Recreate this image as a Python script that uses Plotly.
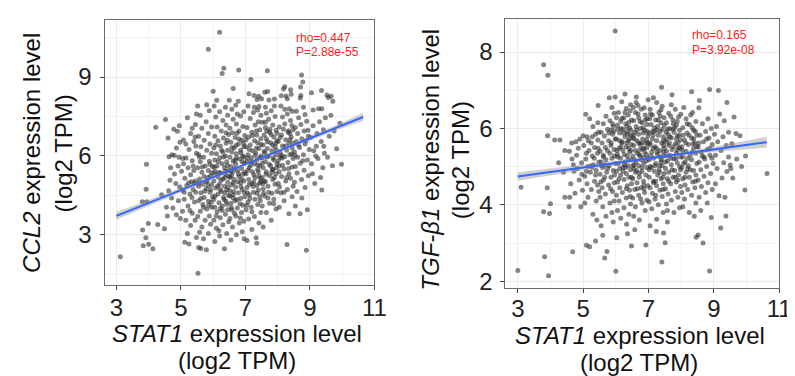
import plotly.graph_objects as go

# ---------------- data ----------------
# Left panel: STAT1 (x) vs CCL2 (y), log2 TPM
ccl2_points = [
    (3.12,2.17),(3.81,3.18),(3.91,2.89),(3.83,2.58),(4.00,2.64),(3.99,3.43),(3.80,4.26),(3.94,4.26),(3.93,5.68),(3.92,4.73),
    (4.13,2.47),(4.28,3.39),(4.49,3.23),(4.22,7.09),(4.52,7.39),(4.60,6.68),(4.89,6.94),(4.80,6.02),(4.63,5.97),(4.58,3.72),
    (4.75,4.02),(4.71,4.40),(4.86,3.76),(4.55,4.05),(4.92,4.30),(4.96,4.82),(4.66,5.08),(4.80,5.31),(4.91,5.62),(4.86,6.30),
    (4.72,6.05),(4.97,6.52),(4.40,4.52),(4.62,4.68),(4.98,3.62),(4.84,4.95),(4.94,5.95),(4.78,7.02),(4.95,7.15),(4.68,5.55),
    (5.08,6.61),(5.06,5.90),(5.12,2.72),(5.25,2.65),(5.20,3.05),(5.30,3.35),(5.15,3.55),(5.05,3.90),(5.22,4.10),(5.35,3.82),
    (5.10,4.35),(5.28,4.55),(5.42,4.25),(5.05,4.70),(5.18,4.88),(5.38,4.72),(5.45,5.05),(5.12,5.15),(5.30,5.28),(5.22,5.55),
    (5.40,5.45),(5.08,5.70),(5.35,5.82),(5.48,6.10),(5.25,6.25),(5.15,6.45),(5.40,6.55),(5.30,6.85),(5.45,7.20),(5.20,7.45),
    (5.48,7.60),(5.35,7.05),(5.44,3.55),(5.48,2.90),(5.42,4.95),(5.02,5.42),(5.33,5.02),(5.46,6.38),
    (5.53,1.54),(5.79,2.43),(5.55,2.52),(5.62,2.48),(5.70,2.85),(5.58,3.10),(5.85,3.05),(5.65,3.30),(5.92,3.40),(5.75,3.55),
    (5.52,3.70),(5.88,3.72),(5.60,3.90),(5.80,3.98),(5.95,4.05),(5.68,4.15),(5.55,4.30),(5.85,4.28),(5.72,4.42),(5.98,4.45),
    (5.62,4.60),(5.90,4.62),(5.78,4.75),(5.55,4.85),(5.68,4.92),(5.95,4.90),(5.82,5.05),(5.58,5.12),(5.72,5.22),(5.92,5.25),
    (5.65,5.38),(5.85,5.45),(5.52,5.55),(5.75,5.62),(5.98,5.60),(5.60,5.78),(5.88,5.80),(5.70,5.95),(5.55,6.05),(5.95,6.10),
    (5.80,6.22),(5.62,6.35),(5.90,6.45),(5.72,6.60),(5.55,6.75),(5.85,6.85),(5.65,7.05),(5.95,7.10),(5.78,7.30),(5.60,7.55),
    (5.88,7.72),(5.80,7.95),(5.52,7.90),(5.85,10.06),(5.70,4.05),(5.92,4.72),(5.58,5.95),(5.84,5.18),
    (6.20,10.71),(6.33,9.34),(6.28,9.14),(6.00,8.46),(6.11,8.12),(6.03,7.90),(6.35,2.47),(6.05,2.75),(6.20,2.95),(6.42,3.05),
    (6.10,3.25),(6.30,3.38),(6.48,3.50),(6.02,3.55),(6.22,3.65),(6.38,3.78),(6.12,3.88),(6.45,3.95),(6.05,4.05),(6.28,4.10),
    (6.18,4.22),(6.40,4.28),(6.02,4.35),(6.32,4.42),(6.48,4.50),(6.15,4.55),(6.25,4.65),(6.42,4.70),(6.08,4.78),(6.35,4.85),
    (6.20,4.92),(6.45,5.00),(6.02,5.05),(6.30,5.12),(6.15,5.20),(6.40,5.28),(6.25,5.35),(6.05,5.42),(6.48,5.45),(6.35,5.55),
    (6.12,5.62),(6.28,5.70),(6.42,5.78),(6.05,5.85),(6.20,5.92),(6.38,6.00),(6.10,6.08),(6.30,6.15),(6.45,6.22),(6.02,6.30),
    (6.22,6.38),(6.40,6.48),(6.15,6.58),(6.32,6.68),(6.05,6.75),(6.48,6.82),(6.25,6.95),(6.12,7.10),(6.40,7.18),(6.30,7.35),
    (6.08,7.48),(6.45,7.55),(6.20,7.68),(6.38,7.85),(6.50,8.12),(6.22,4.00),(6.36,4.60),(6.08,5.30),(6.44,6.60),(6.18,3.15),
    (6.79,9.27),(6.62,8.57),(6.78,8.08),(6.70,7.93),(6.55,2.80),(6.72,3.00),(6.90,3.12),(6.60,3.30),(6.81,3.45),(6.95,3.52),
    (6.52,3.62),(6.70,3.72),(6.88,3.85),(6.58,3.95),(6.75,4.02),(6.92,4.12),(6.55,4.20),(6.68,4.30),(6.85,4.38),(6.98,4.45),
    (6.62,4.52),(6.78,4.60),(6.52,4.68),(6.90,4.72),(6.70,4.82),(6.58,4.90),(6.85,4.98),(6.95,5.05),(6.65,5.10),(6.52,5.18),
    (6.80,5.22),(6.92,5.30),(6.60,5.38),(6.75,5.45),(6.88,5.52),(6.55,5.60),(6.70,5.68),(6.98,5.72),(6.62,5.80),(6.82,5.88),
    (6.52,5.95),(6.92,6.00),(6.72,6.08),(6.58,6.15),(6.85,6.22),(6.65,6.30),(6.95,6.35),(6.78,6.45),(6.55,6.52),(6.88,6.60),
    (6.68,6.70),(6.98,6.78),(6.60,6.88),(6.80,6.95),(6.52,7.05),(6.92,7.12),(6.72,7.22),(6.62,7.40),(6.85,7.52),(6.95,7.68),
    (6.58,7.78),(6.75,7.60),(6.88,5.12),(6.62,4.40),(6.76,5.02),(6.94,5.95),(6.57,5.25),(6.83,4.18),(6.71,6.40),(6.96,2.85),(6.66,5.52),
    (7.17,8.91),(7.11,8.37),(7.27,8.30),(7.41,8.27),(7.36,8.15),(7.08,7.90),(7.28,7.85),(7.42,7.88),(7.35,2.68),(7.33,2.89),
    (7.05,2.78),(7.20,3.20),(7.42,3.45),(7.10,3.60),(7.28,3.70),(7.48,3.85),(7.02,3.95),(7.18,4.05),(7.38,4.15),(7.08,4.25),
    (7.30,4.35),(7.45,4.45),(7.12,4.52),(7.25,4.62),(7.40,4.70),(7.05,4.80),(7.35,4.88),(7.20,4.95),(7.48,5.02),(7.10,5.10),
    (7.30,5.18),(7.42,5.25),(7.02,5.32),(7.22,5.40),(7.38,5.48),(7.12,5.55),(7.45,5.62),(7.28,5.70),(7.05,5.78),(7.35,5.85),
    (7.18,5.92),(7.48,6.00),(7.08,6.05),(7.32,6.12),(7.22,6.20),(7.42,6.28),(7.02,6.35),(7.15,6.42),(7.38,6.50),(7.28,6.58),
    (7.48,6.65),(7.10,6.72),(7.35,6.80),(7.20,6.90),(7.45,7.00),(7.05,7.08),(7.30,7.18),(7.40,7.30),(7.15,7.42),(7.48,7.55),
    (7.25,7.65),(7.38,7.75),(7.12,6.25),(7.44,5.92),(7.26,5.02),(7.06,4.60),(7.34,6.95),(7.16,5.65),
    (7.68,9.24),(7.60,8.42),(7.69,8.45),(7.50,8.18),(7.73,8.13),(7.90,8.17),(7.62,7.85),(7.90,7.90),(7.55,3.30),(7.80,3.55),
    (7.65,3.85),(7.95,3.98),(7.52,4.10),(7.75,4.20),(7.88,4.35),(7.60,4.48),(7.82,4.58),(7.98,4.65),(7.55,4.75),(7.70,4.85),
    (7.92,4.92),(7.62,5.02),(7.85,5.10),(7.52,5.18),(7.75,5.25),(7.95,5.32),(7.65,5.40),(7.85,5.48),(7.55,5.55),(7.78,5.62),
    (7.98,5.70),(7.62,5.78),(7.88,5.85),(7.52,5.92),(7.72,6.00),(7.95,6.05),(7.60,6.12),(7.82,6.20),(7.68,6.28),(7.92,6.35),
    (7.55,6.42),(7.78,6.50),(7.98,6.58),(7.65,6.65),(7.88,6.72),(7.58,6.80),(7.75,6.90),(7.95,6.98),(7.62,7.08),(7.85,7.18),
    (7.52,7.28),(7.72,7.40),(7.92,7.50),(7.65,7.62),(7.80,7.72),(7.58,5.05),(7.84,6.42),(7.70,4.40),(7.96,5.55),(7.66,6.95),
    (8.22,8.63),(8.18,8.55),(8.40,8.52),(8.11,8.29),(8.26,8.28),(8.42,8.35),(8.30,8.18),(8.10,7.90),(8.22,7.78),(8.36,7.80),
    (8.29,2.63),(8.35,3.80),(8.05,4.05),(8.20,4.30),(8.45,4.45),(8.10,4.60),(8.30,4.72),(8.48,4.85),(8.02,4.95),(8.25,5.05),
    (8.40,5.15),(8.12,5.22),(8.35,5.32),(8.05,5.40),(8.20,5.50),(8.45,5.58),(8.15,5.65),(8.32,5.75),(8.02,5.82),(8.48,5.90),
    (8.22,5.98),(8.38,6.05),(8.08,6.12),(8.28,6.22),(8.45,6.30),(8.15,6.38),(8.35,6.48),(8.02,6.55),(8.25,6.62),(8.42,6.72),
    (8.12,6.80),(8.32,6.90),(8.48,7.00),(8.05,7.10),(8.22,7.22),(8.40,7.35),(8.15,7.48),(8.30,7.60),(8.45,7.70),(8.08,5.95),(8.38,6.85),
    (8.74,9.08),(8.78,8.81),(8.71,8.62),(8.72,8.30),(8.70,8.20),(8.80,7.85),(8.89,2.41),(8.70,3.80),(8.92,3.95),(8.55,4.10),
    (8.75,4.40),(8.60,4.65),(8.85,4.80),(8.52,5.00),(8.74,5.10),(8.95,5.25),(8.60,5.35),(8.82,5.46),(8.55,5.60),(8.70,5.72),
    (8.92,5.85),(8.62,5.95),(8.80,6.05),(8.52,6.15),(8.98,6.25),(8.68,6.32),(8.85,6.45),(8.58,6.55),(8.75,6.65),(8.95,6.75),
    (8.62,6.85),(8.82,6.95),(8.55,7.08),(8.72,7.20),(8.90,7.32),(8.65,7.45),(8.85,7.58),(8.58,7.70),
    (9.05,8.40),(9.36,8.49),(9.10,7.75),(9.27,7.80),(9.37,7.80),(9.08,5.32),(9.20,6.37),(9.33,5.18),(9.37,4.70),(9.15,4.95),
    (9.40,5.55),(9.05,5.70),(9.25,5.90),(9.45,6.10),(9.12,6.20),(9.35,6.55),(9.02,6.70),(9.22,6.85),(9.42,7.00),(9.10,7.15),
    (9.30,7.30),(9.48,7.45),(9.18,6.00),
    (9.53,8.32),(9.57,8.22),(9.66,8.27),(9.71,8.08),(9.43,6.37),(9.93,7.24),(9.83,6.27),(9.70,5.63),(9.98,5.68),(9.60,6.75),
    (9.75,6.95),(9.55,5.95),(9.65,7.55),
    # denser core
    (5.62,4.38),(5.74,4.66),(5.86,4.12),(5.96,5.36),(5.66,5.58),(5.78,5.02),(5.90,5.68),(5.56,4.96),(5.84,4.88),(5.94,4.24),
    (6.06,4.48),(6.14,4.86),(6.24,5.08),(6.34,4.34),(6.46,4.82),(6.04,5.58),(6.16,5.78),(6.26,6.22),(6.38,5.42),(6.44,5.64),
    (6.10,3.72),(6.28,3.92),(6.42,4.16),(6.50,5.22),(6.18,5.38),(6.32,5.96),(6.08,6.42),(6.40,6.88),(6.22,4.72),(6.36,5.18),
    (6.56,4.04),(6.64,4.64),(6.74,4.34),(6.86,4.84),(6.96,4.62),(6.54,5.42),(6.68,5.84),(6.78,5.32),(6.90,5.78),(6.58,6.32),
    (6.80,6.64),(6.94,6.48),(6.62,4.98),(6.72,5.92),(6.86,6.12),(6.52,4.48),(6.66,3.82),(6.84,3.64),(6.98,5.38),(6.74,6.86),
    (7.04,4.12),(7.14,4.38),(7.24,4.84),(7.36,4.58),(7.46,5.14),(7.08,5.46),(7.18,5.78),(7.30,6.02),(7.40,5.40),(7.48,6.44),
    (7.02,6.62),(7.22,6.78),(7.34,6.30),(7.12,4.92),(7.26,5.28),(7.44,4.96),(7.06,5.92),(7.38,5.66),(7.20,3.88),(7.46,4.30),
    (7.54,4.94),(7.64,5.30),(7.74,5.68),(7.86,5.92),(7.96,6.22),(7.58,6.18),(7.68,6.54),(7.80,6.82),(7.90,5.18),(7.52,5.72),
    (7.72,4.62),(7.84,5.48),(7.94,6.48),(7.62,7.28),(7.76,7.02),(7.56,4.58),(7.88,4.18),(7.98,6.86),(7.66,5.96),(7.82,5.38),
    (8.04,5.62),(8.14,5.92),(8.24,6.38),(8.34,5.52),(8.44,6.08),(8.08,6.70),(8.18,7.02),(8.28,5.18),(8.38,6.62),(8.48,6.48),
    (8.06,4.82),(8.20,4.62),(8.34,6.96),(8.44,7.16),(8.12,6.02),(8.54,6.02),(8.64,6.42),(8.78,5.82),(8.88,6.58),(8.94,6.98),
    (5.34,4.42),(5.46,4.62),(5.24,4.98),(5.38,5.62),(5.16,5.92),(5.44,6.72),(5.28,3.92),(5.10,4.62),
]
left_stat1 = [p[0] for p in ccl2_points]
left_ccl2 = [p[1] for p in ccl2_points]

# Right panel: STAT1 (x) vs TGF-beta1 (y), log2 TPM
tgfb1_points = [
    (3.00,2.28),(3.10,4.46),(3.79,7.67),(3.92,7.39),(3.94,2.14),(3.82,2.64),(3.79,3.82),(3.97,3.77),(4.00,4.03),(3.90,4.45),
    (3.91,5.81),(4.13,5.70),(4.29,5.70),(4.44,5.42),(4.44,4.20),(4.40,4.85),(4.25,5.10),
    (4.59,4.20),(4.57,3.95),(4.68,2.77),(4.65,5.62),(4.72,4.88),(4.80,5.30),(4.62,4.55),(4.88,4.65),(4.95,5.10),(4.70,5.05),
    (4.85,5.48),(4.98,4.38),(4.75,4.30),(4.90,5.72),(4.58,5.40),(4.82,4.95),(4.96,4.80),(4.66,5.20),(4.93,3.95),(4.78,5.65),
    (5.00,5.81),(5.08,6.37),(5.46,6.60),(5.38,3.05),(5.10,2.94),(5.20,2.90),(5.05,4.05),(5.15,4.20),(5.30,3.75),(5.42,3.60),
    (5.25,4.40),(5.12,4.55),(5.35,4.62),(5.48,4.35),(5.05,4.75),(5.22,4.85),(5.40,4.90),(5.15,5.00),(5.32,5.05),(5.48,5.12),
    (5.08,5.20),(5.28,5.28),(5.44,5.35),(5.18,5.42),(5.35,5.50),(5.02,5.55),(5.25,5.62),(5.45,5.70),(5.12,5.78),(5.38,5.85),
    (5.30,6.05),(5.45,6.15),(5.20,6.25),(5.40,4.10),(5.28,4.98),(5.10,5.35),(5.47,5.90),
    (5.98,8.55),(5.73,2.78),(5.66,2.61),(5.55,3.45),(5.70,3.70),(5.88,3.80),(5.60,3.95),(5.82,4.05),(5.95,4.10),(5.52,4.20),
    (5.68,4.28),(5.90,4.35),(5.58,4.45),(5.78,4.52),(5.95,4.58),(5.62,4.65),(5.85,4.72),(5.52,4.80),(5.72,4.85),(5.92,4.90),
    (5.60,4.98),(5.80,5.02),(5.98,5.08),(5.55,5.12),(5.70,5.18),(5.88,5.22),(5.62,5.30),(5.82,5.35),(5.52,5.40),(5.95,5.45),
    (5.68,5.50),(5.85,5.55),(5.58,5.62),(5.78,5.68),(5.98,5.72),(5.65,5.80),(5.90,5.85),(5.55,5.90),(5.75,5.98),(5.92,6.05),
    (5.62,6.12),(5.82,6.20),(5.70,6.32),(5.95,6.40),(5.88,6.55),(5.80,6.80),(5.98,6.82),(5.60,3.20),(5.92,3.55),(5.75,4.95),
    (5.86,5.95),(5.66,5.05),(5.54,4.60),(5.96,4.78),
    (6.00,2.26),(6.03,3.14),(6.36,3.24),(6.33,3.49),(6.48,2.92),(6.28,6.90),(6.15,3.65),(6.40,3.75),(6.05,3.85),(6.25,3.92),
    (6.45,4.02),(6.10,4.10),(6.32,4.18),(6.02,4.25),(6.20,4.32),(6.42,4.38),(6.12,4.45),(6.35,4.50),(6.48,4.55),(6.05,4.60),
    (6.25,4.66),(6.40,4.72),(6.15,4.78),(6.32,4.82),(6.02,4.88),(6.45,4.92),(6.22,4.98),(6.38,5.02),(6.08,5.08),(6.28,5.12),
    (6.48,5.18),(6.15,5.22),(6.35,5.28),(6.05,5.32),(6.42,5.38),(6.22,5.42),(6.10,5.48),(6.32,5.52),(6.48,5.58),(6.18,5.62),
    (6.38,5.68),(6.02,5.72),(6.28,5.78),(6.45,5.82),(6.12,5.88),(6.35,5.92),(6.22,5.98),(6.42,6.02),(6.05,6.08),(6.30,6.12),
    (6.15,6.18),(6.48,6.22),(6.25,6.28),(6.38,6.35),(6.08,6.42),(6.32,6.52),(6.45,6.62),(6.18,6.70),(6.40,5.48),(6.26,5.05),
    (6.12,4.95),(6.46,5.95),(6.20,5.65),(6.34,6.05),(6.06,5.25),(6.44,4.22),(6.16,6.00),(6.36,5.85),
    (6.63,6.82),(6.87,6.54),(6.99,6.75),(6.55,3.70),(6.72,3.60),(6.90,3.85),(6.60,3.95),(6.80,4.05),(6.95,4.12),(6.52,4.18),
    (6.70,4.25),(6.88,4.32),(6.58,4.40),(6.78,4.45),(6.98,4.50),(6.65,4.58),(6.85,4.62),(6.52,4.68),(6.72,4.72),(6.92,4.78),
    (6.60,4.85),(6.80,4.88),(6.55,4.95),(6.95,4.98),(6.70,5.02),(6.85,5.08),(6.62,5.12),(6.78,5.18),(6.98,5.22),(6.52,5.28),
    (6.72,5.32),(6.88,5.38),(6.60,5.42),(6.82,5.46),(6.95,5.50),(6.55,5.55),(6.75,5.58),(6.90,5.62),(6.65,5.68),(6.82,5.72),
    (6.52,5.76),(6.98,5.80),(6.70,5.85),(6.58,5.90),(6.88,5.95),(6.75,6.00),(6.62,6.05),(6.95,6.10),(6.80,6.15),(6.55,6.20),
    (6.70,6.28),(6.90,6.35),(6.60,6.42),(6.78,6.50),(6.68,6.60),(6.92,2.95),(6.58,3.35),(6.85,5.25),(6.66,5.35),(6.94,5.70),
    (6.74,5.45),(6.56,5.05),(6.84,5.88),(6.64,4.90),(6.96,6.25),(6.76,4.15),(6.54,6.55),(6.86,4.42),(6.70,5.62),(6.92,5.15),
    (7.41,2.50),(7.51,3.01),(7.46,3.26),(7.40,7.08),(7.05,3.45),(7.25,3.62),(7.45,3.80),(7.10,3.90),(7.30,4.00),(7.02,4.08),
    (7.20,4.15),(7.42,4.22),(7.12,4.30),(7.35,4.38),(7.05,4.45),(7.25,4.50),(7.45,4.55),(7.15,4.62),(7.38,4.68),(7.02,4.72),
    (7.28,4.78),(7.48,4.82),(7.18,4.88),(7.32,4.92),(7.08,4.98),(7.42,5.02),(7.22,5.08),(7.38,5.12),(7.02,5.18),(7.15,5.22),
    (7.45,5.28),(7.28,5.32),(7.10,5.38),(7.35,5.42),(7.48,5.48),(7.20,5.52),(7.05,5.58),(7.40,5.62),(7.25,5.68),(7.12,5.72),
    (7.45,5.78),(7.30,5.82),(7.02,5.88),(7.18,5.92),(7.42,5.98),(7.28,6.05),(7.08,6.10),(7.38,6.15),(7.22,6.22),(7.48,6.28),
    (7.12,6.35),(7.32,6.42),(7.05,6.50),(7.42,6.58),(7.25,6.68),(7.15,6.80),(7.35,5.25),(7.06,5.00),(7.44,4.40),(7.26,5.95),
    (7.16,4.58),(7.36,6.32),(7.24,3.30),(7.46,5.55),(7.14,5.48),(7.34,4.85),(7.04,6.25),(7.22,4.25),
    (7.72,6.88),(7.99,6.37),(7.58,3.55),(7.78,3.80),(7.95,3.92),(7.55,4.02),(7.70,4.12),(7.90,4.20),(7.60,4.28),(7.82,4.35),
    (7.52,4.42),(7.98,4.48),(7.68,4.55),(7.85,4.60),(7.58,4.68),(7.75,4.72),(7.92,4.78),(7.62,4.85),(7.80,4.90),(7.52,4.95),
    (7.95,5.00),(7.70,5.05),(7.88,5.10),(7.58,5.15),(7.78,5.20),(7.98,5.25),(7.65,5.30),(7.85,5.35),(7.55,5.40),(7.72,5.45),
    (7.92,5.50),(7.62,5.55),(7.82,5.60),(7.52,5.65),(7.98,5.70),(7.70,5.75),(7.88,5.80),(7.60,5.85),(7.78,5.90),(7.95,5.95),
    (7.65,6.00),(7.85,6.08),(7.55,6.15),(7.75,6.22),(7.92,6.30),(7.62,6.40),(7.82,6.50),(7.70,6.62),(7.58,3.85),(7.88,5.42),
    (7.68,5.22),(7.90,4.65),(7.54,5.90),(7.76,6.12),
    (8.32,6.96),(8.29,6.35),(8.05,3.95),(8.25,3.80),(8.45,4.05),(8.10,4.15),(8.32,4.25),(8.02,4.32),(8.20,4.40),(8.42,4.45),
    (8.12,4.52),(8.35,4.60),(8.05,4.68),(8.25,4.72),(8.45,4.78),(8.15,4.85),(8.38,4.90),(8.02,4.98),(8.22,5.02),(8.48,5.08),
    (8.12,5.12),(8.32,5.18),(8.05,5.25),(8.28,5.30),(8.45,5.35),(8.15,5.40),(8.38,5.48),(8.02,5.52),(8.22,5.58),(8.42,5.62),
    (8.10,5.70),(8.32,5.75),(8.48,5.82),(8.18,5.88),(8.38,5.95),(8.05,6.02),(8.25,6.10),(8.45,6.18),(8.15,6.25),(8.35,6.42),
    (8.08,6.55),(8.40,3.70),(8.20,4.95),(8.36,5.60),
    (8.87,2.27),(8.52,3.21),(8.46,3.15),(8.67,3.00),(8.92,3.67),(8.87,7.02),(8.56,6.73),(8.54,6.54),(8.60,3.85),(8.80,4.05),
    (8.55,4.20),(8.75,4.32),(8.95,4.40),(8.62,4.48),(8.82,4.58),(8.52,4.65),(8.70,4.75),(8.90,4.82),(8.60,4.92),(8.78,5.00),
    (8.98,5.08),(8.55,5.12),(8.72,5.20),(8.88,5.30),(8.62,5.38),(8.80,5.45),(8.52,5.52),(8.95,5.58),(8.68,5.65),(8.85,5.75),
    (8.58,5.82),(8.75,5.92),(8.92,6.00),(8.65,6.12),(8.82,6.25),(8.70,5.25),
    (9.14,6.99),(9.40,6.68),(9.21,3.39),(9.37,3.71),(9.16,4.24),(9.34,4.20),(9.50,5.04),(9.40,4.87),(9.05,4.55),(9.25,4.70),
    (9.10,4.95),(9.30,5.10),(9.45,5.25),(9.05,5.30),(9.22,5.42),(9.38,5.55),(9.12,5.65),(9.28,5.78),(9.45,5.90),(9.08,6.05),
    (9.32,6.20),(9.18,6.38),(9.02,5.85),
    (9.58,4.70),(9.95,4.39),(10.63,4.82),(9.68,5.87),(9.80,5.81),(9.97,5.28),(9.55,5.60),(9.70,5.20),(9.62,6.30),(9.85,5.00),
    (9.52,4.95),
    # denser core
    (5.62,5.25),(5.74,5.42),(5.86,5.62),(5.96,5.28),(5.66,4.72),(5.78,5.88),(5.90,6.12),(5.56,5.02),(5.84,4.42),(5.94,5.92),
    (6.04,5.42),(6.12,5.68),(6.24,5.88),(6.34,5.62),(6.46,5.42),(6.06,5.98),(6.18,6.26),(6.28,6.42),(6.38,5.18),(6.44,6.46),
    (6.10,4.68),(6.22,4.88),(6.32,4.42),(6.48,4.72),(6.16,5.52),(6.26,5.32),(6.40,6.16),(6.02,6.28),(6.30,4.98),(6.42,5.72),
    (6.56,5.72),(6.64,5.96),(6.74,6.18),(6.86,5.48),(6.96,5.92),(6.54,5.82),(6.68,6.38),(6.78,5.62),(6.90,6.22),(6.58,5.18),
    (6.80,4.98),(6.94,5.32),(6.62,6.68),(6.72,4.82),(6.86,4.52),(6.52,5.02),(6.66,4.42),(6.84,6.02),(6.98,5.62),(6.74,5.28),
    (7.04,5.62),(7.14,5.82),(7.24,5.48),(7.36,5.92),(7.46,5.68),(7.08,5.28),(7.18,6.02),(7.30,6.22),(7.40,5.18),(7.48,6.08),
    (7.02,4.92),(7.22,4.62),(7.34,5.02),(7.12,5.92),(7.26,5.38),(7.44,4.72),(7.06,6.38),(7.38,6.48),(7.20,5.02),(7.46,5.38),
    (7.54,5.28),(7.64,5.62),(7.74,5.98),(7.86,5.72),(7.96,5.48),(7.58,5.98),(7.68,6.32),(7.80,6.02),(7.90,5.62),(7.52,5.12),
    (7.72,4.92),(7.84,5.22),(7.94,5.82),(7.62,4.62),(7.76,5.52),(7.56,5.72),(7.88,6.18),(7.98,4.92),(7.66,5.78),(7.82,4.72),
    (8.04,5.42),(8.14,5.62),(8.24,5.82),(8.34,5.38),(8.44,5.92),(8.08,5.08),(8.18,6.12),(8.28,4.92),(8.38,5.72),(8.48,5.52),
    (8.06,5.82),(8.20,5.22),(8.34,6.02),(8.44,4.62),(8.12,4.72),(8.54,5.62),(8.64,5.28),(8.78,5.72),(8.88,5.48),(8.94,5.22),
    (5.34,5.22),(5.46,5.48),(5.24,5.02),(5.38,4.78),(5.16,5.68),(5.44,4.52),(5.28,5.78),(5.10,4.88),
]
right_stat1 = [p[0] for p in tgfb1_points]
right_tgfb1 = [p[1] for p in tgfb1_points]

# Fitted regression lines and confidence band half-widths
left_fit_x = [3.0, 4.0, 5.0, 6.0, 7.0, 8.0, 9.0, 10.0, 10.65]
left_fit_y = [3.72, 4.21, 4.70, 5.19, 5.68, 6.18, 6.67, 7.16, 7.48]
left_fit_hw = [0.15, 0.11, 0.08, 0.06, 0.05, 0.06, 0.08, 0.11, 0.15]

right_fit_x = [3.0, 4.0, 5.0, 6.0, 7.0, 8.0, 9.0, 10.0, 10.62]
right_fit_y = [4.74, 4.86, 4.98, 5.09, 5.21, 5.33, 5.45, 5.57, 5.64]
right_fit_hw = [0.11, 0.09, 0.07, 0.05, 0.04, 0.05, 0.07, 0.11, 0.14]

left_stats = ["rho=0.447", "P=2.88e-55"]
right_stats = ["rho=0.165", "P=3.92e-08"]

x_ticks = [3, 5, 7, 9, 11]
left_y_ticks = [3, 6, 9]
right_y_ticks = [2, 4, 6, 8]

# ---------------- figure ----------------
W, H = 795, 376
FONT = "Liberation Sans, Arial, sans-serif"
POINT_COLOR = "rgba(45,45,45,0.58)"
LINE_COLOR = "#3366FF"
BAND_COLOR = "rgba(150,150,150,0.45)"

fig = go.Figure()


def add_panel(xs, ys, fx, fy, fhw, xa, ya):
    fig.add_trace(go.Scatter(
        x=xs, y=ys, mode="markers", xaxis=xa, yaxis=ya,
        marker=dict(size=5, color=POINT_COLOR, line=dict(width=0)),
        showlegend=False, hoverinfo="skip"))
    upper = [c + h for c, h in zip(fy, fhw)]
    lower = [c - h for c, h in zip(fy, fhw)]
    fig.add_trace(go.Scatter(
        x=fx + fx[::-1], y=upper + lower[::-1], mode="lines", fill="toself",
        fillcolor=BAND_COLOR, line=dict(width=0), xaxis=xa, yaxis=ya,
        showlegend=False, hoverinfo="skip"))
    fig.add_trace(go.Scatter(
        x=fx, y=fy, mode="lines", line=dict(color=LINE_COLOR, width=2),
        xaxis=xa, yaxis=ya, showlegend=False, hoverinfo="skip"))


add_panel(left_stat1, left_ccl2, left_fit_x, left_fit_y, left_fit_hw, "x", "y")
add_panel(right_stat1, right_tgfb1, right_fit_x, right_fit_y, right_fit_hw, "x2", "y2")

axis_common = dict(
    showline=True, linecolor="#6b6b6b", linewidth=1, mirror=True,
    ticks="outside", ticklen=4, tickcolor="#444444", tickwidth=1,
    showgrid=True, gridcolor="#ebebeb", gridwidth=1, zeroline=False,
    tickfont=dict(family=FONT, size=24, color="#222222"),
)

fig.update_layout(
    width=W, height=H,
    margin=dict(l=0, r=0, t=0, b=0),
    paper_bgcolor="white", plot_bgcolor="white",
    xaxis=dict(axis_common, domain=[98 / W, 372 / W], range=[2.63, 11.0],
               tickvals=x_ticks, anchor="y", ticklabelstandoff=-3,
               minor=dict(dtick=1, tick0=3, showgrid=True, gridcolor="#f3f3f3", ticks="")),
    yaxis=dict(axis_common, domain=[1 - 282 / H, 1 - 12 / H], range=[1.1, 11.18],
               tickvals=left_y_ticks, anchor="x", ticklabelstandoff=3,
               minor=dict(dtick=1.5, tick0=1.5, showgrid=True, gridcolor="#f3f3f3", ticks="")),
    xaxis2=dict(axis_common, domain=[505 / W, 783 / W], range=[2.62, 11.0],
                tickvals=x_ticks, anchor="y2", ticklabelstandoff=-4,
                minor=dict(dtick=1, tick0=3, showgrid=True, gridcolor="#f3f3f3", ticks="")),
    yaxis2=dict(axis_common, domain=[1 - 285 / H, 1 - 11 / H], range=[1.83, 8.87],
                tickvals=right_y_ticks, anchor="x2", ticklabelstandoff=3,
                minor=dict(dtick=1, tick0=1, showgrid=True, gridcolor="#f3f3f3", ticks="")),
)

# white boxes behind the statistics text (hide grid there)
fig.add_shape(type="rect", xref="x", yref="y", x0=8.37, x1=11.0, y0=9.46, y1=11.18,
              fillcolor="white", line=dict(width=0), layer="below")
fig.add_shape(type="rect", xref="x2", yref="y2", x0=7.80, x1=11.0, y0=7.68, y1=8.87,
              fillcolor="white", line=dict(width=0), layer="below")


def px_ann(text, x, y, size, color="#111111", angle=0, xanchor="center"):
    fig.add_annotation(text=text, xref="paper", yref="paper", x=x / W, y=1 - y / H,
                       xanchor=xanchor, yanchor="middle", showarrow=False, textangle=angle,
                       font=dict(family=FONT, size=size, color=color))


# axis titles (one annotation per line)
px_ann("<i>STAT1</i> expression level", 233, 332, 24)
px_ann("(log2 TPM)", 233, 359, 24)
px_ann("<i>STAT1</i> expression level", 642, 334, 24)
px_ann("(log2 TPM)", 641, 361, 24)
px_ann("<i>CCL2</i> expression level", 24, 148, 24, angle=-90)
px_ann("(log2 TPM)", 56, 148, 24, angle=-90)
px_ann("<i>TGF-β1</i> expression level", 429, 155, 24, angle=-90)
px_ann("(log2 TPM)", 459, 155, 24, angle=-90)

# statistics
px_ann(left_stats[0], 290, 31, 12, color="#ff2020", xanchor="left")
px_ann(left_stats[1], 290, 45, 12, color="#ff2020", xanchor="left")
px_ann(right_stats[0], 692, 27.5, 12, color="#ff2020", xanchor="left")
px_ann(right_stats[1], 692, 42.5, 12, color="#ff2020", xanchor="left")

fig.write_html("out.html")
